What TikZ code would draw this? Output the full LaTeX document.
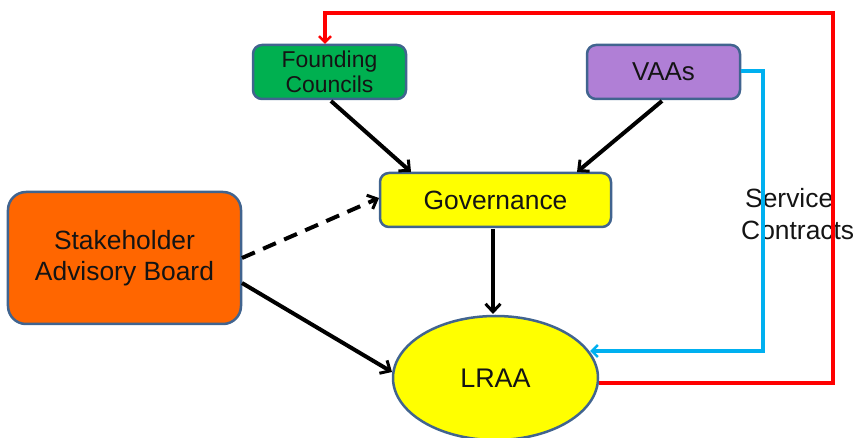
\documentclass[tikz,border=0pt]{standalone}
\usepackage{fontspec}
\setmainfont{Liberation Sans}
\usetikzlibrary{arrows.meta,shapes.geometric}
\definecolor{bordc}{HTML}{41648F}
\definecolor{fgreen}{HTML}{00B050}
\definecolor{fpurple}{HTML}{B07FD6}
\definecolor{fyellow}{HTML}{FFFF00}
\definecolor{forange}{HTML}{FF6600}
\definecolor{fred}{HTML}{FF0000}
\definecolor{fblue}{HTML}{00B0F0}
\definecolor{txt}{HTML}{141414}
\tikzset{
  box/.style={draw=bordc, line width=2.5bp, rounded corners=9bp, inner sep=0pt, align=center, text=txt},
  conn/.style={line width=4bp, -{Straight Barb[length=8bp,width=15bp,line width=3bp]}},
  redl/.style={draw=fred, line width=4bp, -{Straight Barb[length=6bp,width=12bp,line width=2.5bp]}},
  bluel/.style={draw=fblue, line width=3.5bp, -{Straight Barb[length=6bp,width=12bp,line width=2.5bp]}},
}
\begin{document}
\begin{tikzpicture}[x=1bp,y=-1bp]
\useasboundingbox (0,0) rectangle (859,438);
\node[box, fill=fgreen, minimum width=153bp, minimum height=54bp, font=\fontsize{23}{25}\selectfont] (fc) at (329.5,72) {Founding\\Councils};
\node[box, fill=fpurple, minimum width=153bp, minimum height=54bp, font=\fontsize{26}{28}\selectfont] (vaa) at (663.5,72) {VAAs};
\node[box, fill=fyellow, minimum width=231bp, minimum height=54bp, font=\fontsize{26.5}{28}\selectfont] (gov) at (495.5,200) {Governance};
\node[box, fill=forange, minimum width=233bp, minimum height=132bp, rounded corners=18bp, font=\fontsize{26.5}{31}\selectfont] (sab) at (124.5,258) {Stakeholder\\Advisory Board};
\node[ellipse, draw=bordc, line width=2.5bp, fill=fyellow, minimum width=205bp, minimum height=124bp, inner sep=0pt, text=txt, font=\fontsize{27}{30}\selectfont] (lraa) at (495.5,378) {LRAA};
\node[anchor=north west, align=left, inner sep=0pt, text=txt, font=\fontsize{26.5}{32}\selectfont] (sc) at (741,188) {\hspace{4bp}Service\\Contracts};
\coordinate (fcb) at (331,101);
\coordinate (govtl) at (411,172);
\coordinate (vaab) at (662,101);
\coordinate (govtr) at (577,172);
\coordinate (govb) at (493,229);
\coordinate (lraat) at (493,314);
\coordinate (sabr) at (242,258);
\coordinate (govl) at (379,198);
\coordinate (sabr2) at (242,283);
\coordinate (lraal) at (392,372);
\coordinate (r0) at (599,383);
\coordinate (r1) at (833,383);
\coordinate (r2) at (833,13);
\coordinate (r3) at (325,13);
\coordinate (fct) at (325,44);
\coordinate (b0) at (741,71);
\coordinate (b1) at (763,71);
\coordinate (b2) at (763,351);
\coordinate (lraar) at (590,351);
\draw[conn] (fcb) -- (govtl);
\draw[conn] (vaab) -- (govtr);
\draw[conn] (govb) -- (lraat);
\draw[conn, dash pattern=on 14bp off 9bp] (sabr) -- (govl);
\draw[conn] (sabr2) -- (lraal);
\draw[redl] (r0) -- (r1) -- (r2) -- (r3) -- (fct);
\draw[bluel] (b0) -- (b1) -- (b2) -- (lraar);
\end{tikzpicture}
\end{document}
